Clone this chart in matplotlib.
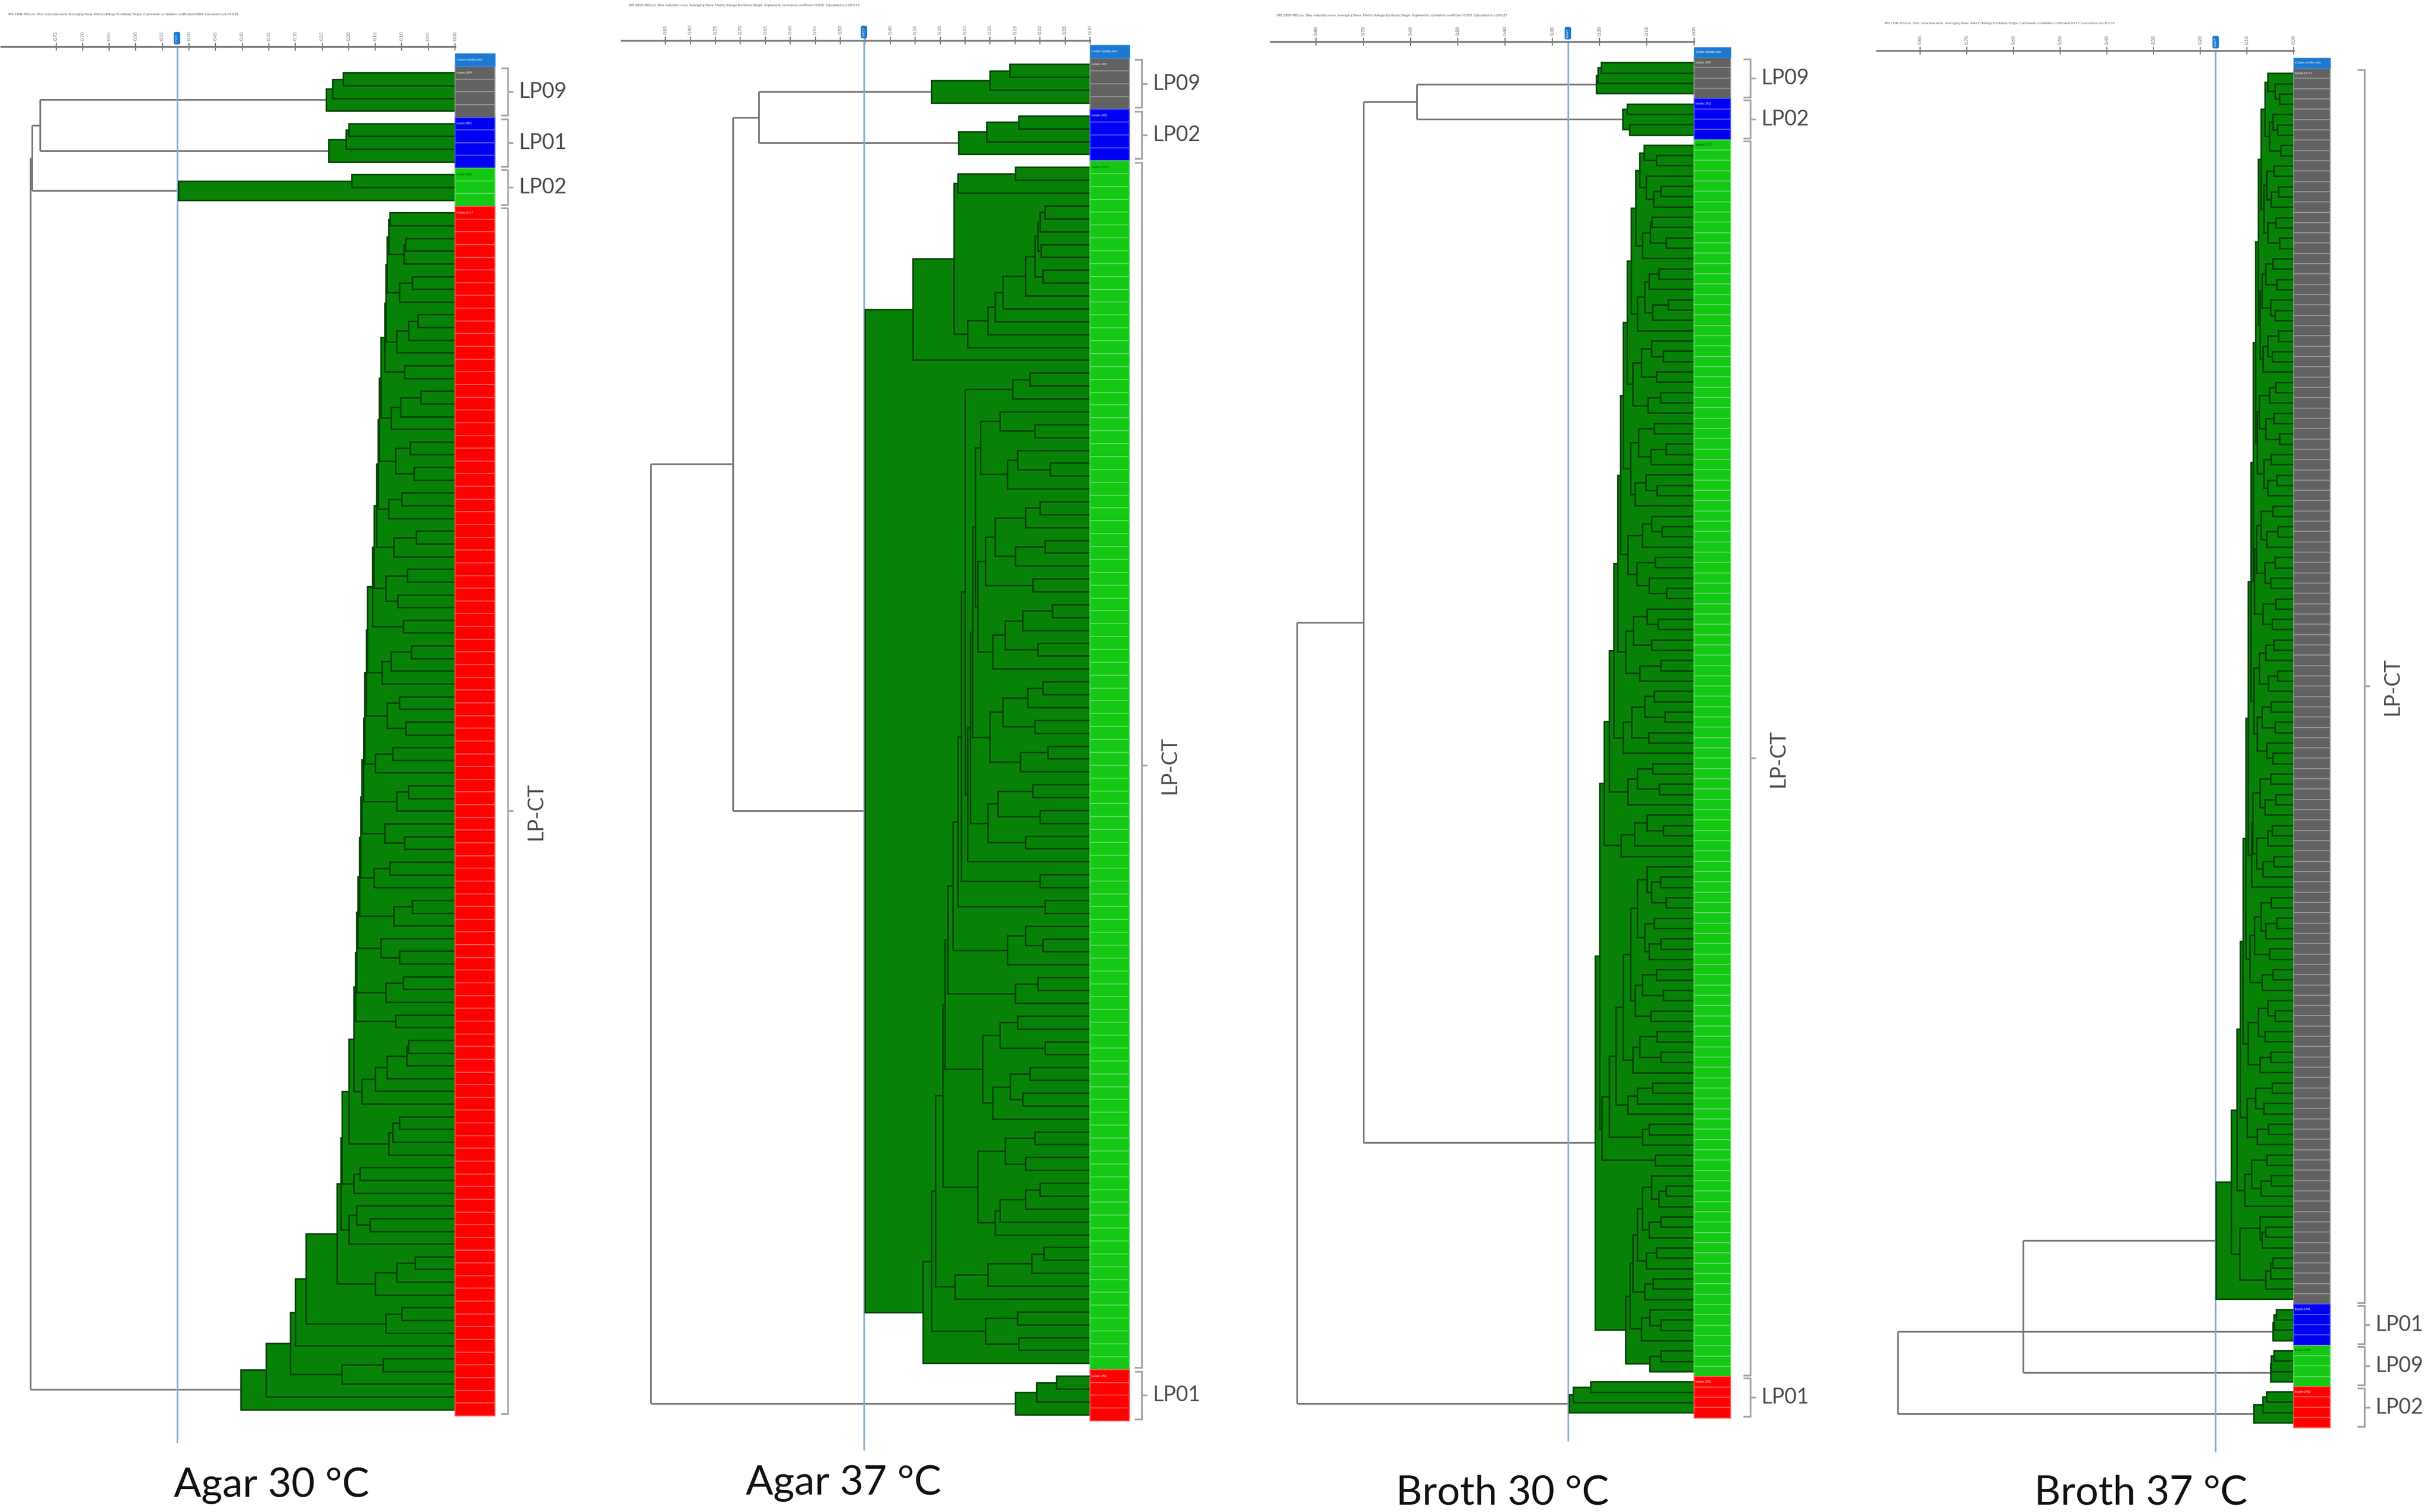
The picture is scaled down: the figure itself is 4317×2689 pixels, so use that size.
import numpy as np
import matplotlib
matplotlib.use("Agg")
import matplotlib.pyplot as plt
import matplotlib.colors as mcolors

plt.rcParams['font.family'] = ['Lato', 'DejaVu Sans']

W, H = 4317, 2689

# colours of the isolate strip, in the order the groups appear top to bottom
strip_colors = ["#626262", "#0000f5", "#14c814", "#ff0000"]
isolate_text = ["white", "white", "#0b3d0b", "white"]

# ---- merge height between neighbouring isolates (top to bottom), in ruler tick units
# Agar 30 C
a30_groups = ["LP09", "LP01", "LP02", "LP-CT"]
a30_sizes = [4, 4, 3, 95]
a30_lp09 = [4.2, 4.6, 4.85]
a30_lp01 = [4.0, 4.1, 4.75]
a30_lp02 = [3.9, 10.4]
a30_lpct = [2.45, 2.50, 1.85, 1.92, 2.55, 1.60, 2.10, 2.60, 1.40, 1.75,
            2.20, 2.65, 1.90, 2.80, 1.30, 2.05, 2.40, 2.85, 1.70, 2.25,
            1.55, 2.90, 2.00, 2.50, 2.95, 1.45, 2.30, 3.05, 1.80, 2.60,
            2.15, 3.10, 1.95, 3.30, 1.65, 2.40, 2.75, 3.35, 2.10, 2.55,
            1.85, 3.40, 2.35, 3.00, 3.45, 1.75, 2.20, 3.50, 2.65, 1.90,
            3.55, 2.45, 3.05, 3.60, 1.60, 2.30, 3.65, 2.80, 2.10, 3.70,
            1.95, 2.60, 3.75, 2.25, 3.80, 1.75, 1.82, 2.56, 3.00, 3.50,
            4.00, 2.10, 2.35, 2.50, 4.25, 3.57, 3.80, 4.30, 3.70, 3.20,
            4.00, 4.44, 1.50, 2.20, 3.00, 5.60, 2.00, 2.60, 6.00, 6.20,
            2.70, 4.25, 7.10, 8.05]
a30_links = [15.6, 15.9, 15.96]
a30_gaps = a30_lp09 + [a30_links[0]] + a30_lp01 + [a30_links[1]] + a30_lp02 + [a30_links[2]] + a30_lpct
a30_cutoff = 10.45

# Agar 37 C
a37_groups = ["LP09", "LP02", "LP-CT", "LP01"]
a37_sizes = [4, 4, 94, 4]
a37_lp09 = [3.22, 4.0, 6.35]
a37_lp02 = [2.86, 4.14, 5.27]
a37_lpct = [3.0, 5.3, 5.45, 1.8, 2.0, 2.1, 1.95, 2.2, 1.9, 2.6,
            3.5, 3.8, 4.1, 4.9, 7.1, 9.0, 2.4, 3.1, 5.0, 3.6,
            2.2, 4.4, 2.9, 1.6, 3.3, 4.6, 2.0, 2.6, 3.8, 1.8,
            3.0, 4.2, 2.3, 4.5, 1.5, 2.7, 3.4, 2.1, 3.9, 4.7,
            1.9, 2.5, 3.5, 2.2, 4.0, 1.7, 2.8, 4.8, 2.3, 3.7,
            2.0, 4.1, 2.6, 4.9, 5.15, 2.0, 5.3, 1.8, 5.5, 2.6,
            1.9, 3.3, 5.7, 2.1, 3.0, 5.8, 2.9, 3.6, 1.8, 4.3,
            2.4, 3.2, 2.7, 3.9, 5.9, 2.2, 3.4, 2.6, 4.5, 2.0,
            2.6, 3.6, 3.8, 6.2, 1.85, 2.35, 4.1, 5.4, 6.35, 2.9,
            4.2, 2.85, 6.7]
a37_lp01 = [1.35, 2.15, 3.0]
a37_links = [13.27, 14.3, 17.6]
a37_gaps = a37_lp09 + [a37_links[0]] + a37_lp02 + [a37_links[1]] + a37_lpct + [a37_links[2]] + a37_lp01
a37_cutoff = 9.05

# Broth 30 C
b30_groups = ["LP09", "LP02", "LP-CT", "LP01"]
b30_sizes = [4, 4, 120, 4]
b30_lp09 = [1.96, 2.03, 2.07]
b30_lp02 = [1.42, 1.51, 1.37]
b30_lpct = [1.06, 0.80, 1.15, 1.01, 0.70, 0.86, 1.24, 0.89, 0.93, 0.60,
            1.10, 1.33, 0.75, 0.95, 1.05, 0.55, 0.88, 1.20, 1.42, 0.90,
            0.65, 1.12, 0.80, 1.30, 0.72, 0.98, 1.50, 0.85, 1.18, 0.60,
            0.92, 1.35, 1.02, 0.78, 1.25, 1.56, 0.90, 0.68, 1.10, 1.40,
            0.82, 1.22, 0.95, 0.58, 1.62, 1.00, 0.76, 1.28, 0.90, 1.45,
            0.70, 1.15, 1.70, 0.84, 1.05, 0.62, 1.32, 0.96, 1.50, 1.80,
            0.88, 1.20, 0.74, 1.40, 1.90, 1.00, 0.66, 1.26, 1.55, 2.00,
            1.00, 0.72, 0.90, 0.60, 1.20, 0.85, 1.05, 0.70, 0.95, 1.35,
            0.80, 1.10, 0.65, 1.25, 0.92, 1.50, 0.78, 1.15, 0.70, 1.30,
            1.65, 0.88, 1.20, 1.40, 1.80, 0.95, 1.10, 1.95, 0.82, 2.09,
            0.90, 0.60, 0.75, 1.10, 0.70, 0.95, 1.20, 0.80, 1.01, 1.30,
            0.87, 1.05, 1.36, 0.94, 0.70, 1.12, 1.45, 0.70, 0.94]
b30_lp01 = [2.19, 2.56, 2.64]
b30_links = [5.87, 7.0, 8.4]
b30_gaps = b30_lp09 + [b30_links[0]] + b30_lp02 + [b30_links[1]] + b30_lpct + [b30_links[2]] + b30_lp01
b30_cutoff = 2.67

# Broth 37 C
b37_groups = ["LP-CT", "LP01", "LP09", "LP02"]
b37_sizes = [120, 4, 4, 4]
b37_lpct = [0.55, 0.40, 0.30, 0.62, 0.45, 0.35, 0.52, 0.28, 0.70, 0.42,
            0.58, 0.33, 0.48, 0.64, 0.38, 0.55, 0.30, 0.76, 0.44, 0.60,
            0.36, 0.68, 0.50, 0.40, 0.72, 0.32, 0.56, 0.46, 0.66, 0.82,
            0.38, 0.52, 0.74, 0.42, 0.60, 0.30, 0.78, 0.48, 0.64, 0.36,
            0.56, 0.87, 0.44, 0.70, 0.34, 0.58, 0.80, 0.40, 0.62, 0.50,
            0.84, 0.38, 0.66, 0.46, 0.92, 0.42, 0.60, 0.74, 0.35, 0.54,
            0.86, 0.48, 0.68, 0.40, 0.78, 0.58, 0.44, 0.97, 0.50, 0.72,
            0.38, 0.62, 0.88, 0.46, 0.56, 0.80, 0.42, 0.66, 0.90, 1.02,
            0.48, 0.70, 0.36, 0.60, 0.84, 0.52, 0.94, 0.44, 0.68, 1.08,
            0.56, 0.40, 0.76, 0.62, 0.98, 0.50, 0.72, 1.14, 0.46, 0.82,
            0.64, 1.00, 0.54, 0.78, 1.22, 0.58, 0.90, 0.48, 0.70, 1.05,
            1.34, 0.72, 0.60, 0.68, 1.16, 0.44, 0.50, 0.60, 1.66]
b37_lp01 = [0.37, 0.42, 0.44]
b37_lp09 = [0.42, 0.48, 0.50]
b37_lp02 = [0.58, 0.66, 0.86]
b37_links = [5.8, 5.8, 8.48]
b37_gaps = b37_lpct + [b37_links[0]] + b37_lp01 + [b37_links[1]] + b37_lp09 + [b37_links[2]] + b37_lp02
b37_cutoff = 1.67

# ruler: number of ticks, value per tick, cophenetic coefficient in header
a30_ruler = (16, 0.05, 0.884)
a37_ruler = (18, 0.05, 0.862)
b30_ruler = (9, 0.10, 0.903)
b37_ruler = (9, 0.10, 0.917)

titles = ["Agar 30 °C", "Agar 37 °C", "Broth 30 °C", "Broth 37 °C"]

# ---- page layout in pixels
layouts = [
    dict(x0=0, x1=1040, y0=83, y1=2620, ruler_left=2, edge=809, unit=47.3, c0=129.3, sp=22.64,
         colw=71, br=903, cut_bottom=2566, hdr=(14, 25), title=(483, 2642)),
    dict(x0=1080, x1=2200, y0=72, y1=2620, ruler_left=1105, edge=1938, unit=44.4, c0=114.4, sp=22.87,
         colw=70, br=2030, cut_bottom=2579, hdr=(1118, 10), title=(1500, 2638)),
    dict(x0=2230, x1=3300, y0=74, y1=2620, ruler_left=2259, edge=3012, unit=84.0, c0=111.2, sp=18.33,
         colw=65, br=3112, cut_bottom=2563, hdr=(2270, 28), title=(2671, 2655)),
    dict(x0=3320, x1=4317, y0=90, y1=2620, ruler_left=3337, edge=4078, unit=83.0, c0=130.2, sp=18.32,
         colw=65, br=4204, cut_bottom=2582, hdr=(3350, 42), title=(3806, 2655)),
]

FILL = "#078207"
EDGE = "#053f05"
LINK = "#767676"
CUT = "#86abd2"
BRACKET = "#a6a6a6"
LABEL_COLOR = "#4a4a4a"
LABEL_SIZE = 27


def lighten(c, f):
    r, g, b = mcolors.to_rgb(c)
    return (r + (1 - r) * f, g + (1 - g) * f, b + (1 - b) * f)


fig = plt.figure(figsize=(W / 100, H / 100), dpi=100)


def draw_panel(lay, groups, sizes, gaps, cutoff, ruler, title):
    nticks, step, coph = ruler
    n = sum(sizes)
    g = np.asarray(gaps, dtype=float)
    assert len(g) == n - 1, (title, len(g), n)

    ax = fig.add_axes([lay["x0"] / W, 1 - lay["y1"] / H,
                       (lay["x1"] - lay["x0"]) / W, (lay["y1"] - lay["y0"]) / H])
    ax.patch.set_visible(False)
    ux = lambda px: (lay["edge"] - px) / lay["unit"]
    uy = lambda py: (py - lay["c0"]) / lay["sp"]
    ax.set_xlim(ux(lay["x0"]), ux(lay["x1"]))
    ax.set_ylim(uy(lay["y1"]), uy(lay["y0"]))

    # tree from neighbour gaps (single linkage in leaf order)
    nodes = []

    def build(a, b):
        if a == b:
            return 0.0, float(a)
        seg = g[a:b]
        m = seg.max()
        cuts = list(a + np.flatnonzero(seg == m))
        starts = [a] + [c + 1 for c in cuts]
        ends = cuts + [b]
        kids = [build(s, e) for s, e in zip(starts, ends)]
        y = float(np.median([k[1] for k in kids]))
        nodes.append((m, y, kids))
        return m, y

    build(0, n - 1)
    nodes.sort(key=lambda t: -t[0])

    # filled clusters below the cut-off, plain links above it
    fh, fy, fhgt = [], [], []
    for h, y, kids in nodes:
        ys = [k[1] for k in kids]
        if h <= cutoff:
            fh.append(h)
            fy.append((min(ys) + max(ys)) / 2)
            fhgt.append(max(ys) - min(ys))
        else:
            ax.vlines(h, min(ys), max(ys), color=LINK, lw=2.1, zorder=1)
            for hc, yc in kids:
                ax.hlines(yc, hc, h, color=LINK, lw=2.1, zorder=1)
    ax.barh(fy, fh, height=fhgt, left=0, color=FILL, edgecolor=EDGE, linewidth=1.9, zorder=3)

    # cut-off line
    ax.vlines(cutoff, uy(lay["cut_bottom"]), uy(lay["y0"]), color=CUT, lw=2.0, zorder=2)

    # isolate strip
    colw = lay["colw"] / lay["unit"]
    cols = np.repeat(np.array(strip_colors[:len(sizes)]), sizes)
    edges = [lighten(c, 0.35) for c in cols]
    ax.barh(np.arange(n), -colw, left=0, height=1.0, color=cols, edgecolor=edges,
            linewidth=1.2, zorder=4)
    ax.barh([-1], -colw, left=0, height=1.0, color="#1c78d2", edgecolor="#3b8fdc",
            linewidth=1.0, zorder=4)
    ax.text(-colw * 0.04, -1, "Cluster stability ratio", fontsize=3.6, color="white",
            ha="left", va="center", zorder=5, clip_on=True)

    # brackets and group labels
    xb = ux(lay["br"])
    t = 11 / lay["unit"]
    tm = 8 / lay["unit"]
    start = 0
    for gi, (name, size) in enumerate(zip(groups, sizes)):
        s, e = start, start + size - 1
        start += size
        ya, yb, ym = s - 0.35, e + 0.35, (s + e) / 2
        ax.plot([xb + t, xb, xb, xb + t], [ya, ya, yb, yb], color=BRACKET, lw=2.2,
                solid_joinstyle="miter", zorder=2)
        ax.plot([xb, xb - tm], [ym, ym], color=BRACKET, lw=2.2, zorder=2)
        ax.text(-colw * 0.04, s, "Isolate " + name, fontsize=3.6, color=isolate_text[gi],
                ha="left", va="center", zorder=5)
        if size > 20:
            ax.text(ux(lay["br"] + 50), ym, name, rotation=90, ha="center", va="center",
                    fontsize=LABEL_SIZE, color=LABEL_COLOR)
        else:
            ax.text(ux(lay["br"] + 20), ym, name, ha="left", va="center",
                    fontsize=LABEL_SIZE, color=LABEL_COLOR)

    # ruler on top
    for side in ["left", "right", "bottom"]:
        ax.spines[side].set_visible(False)
    ax.spines["top"].set_bounds(0, ux(lay["ruler_left"]))
    ax.spines["top"].set_color("#7c7c7c")
    ax.spines["top"].set_linewidth(2.4)
    ax.set_yticks([])
    ax.set_xticks(np.arange(nticks))
    ax.set_xticklabels([f"{i * step:.2f}" for i in range(nticks)])
    ax.tick_params(axis="x", top=True, bottom=False, labeltop=True, labelbottom=False,
                   direction="inout", length=10, width=1.3, color="#6f6f6f",
                   labelcolor="#6a6a6a", labelsize=6, labelrotation=90, pad=3)
    ax.text(cutoff, uy(lay["y0"] - 15), f"{cutoff * step:.3f}", rotation=90, ha="center",
            va="center", fontsize=4.5, color="white", zorder=6,
            bbox=dict(boxstyle="round,pad=0.4", fc="#1c78d2", ec="#1c78d2"))

    hx, hy = lay["hdr"]
    fig.text(hx / W, 1 - hy / H,
             f"SPS 1300-900/cm  Dim. reduction none  Averaging None  Metric/linkage Euclidean/Single  "
             f"Cophenetic correlation coefficient {coph:.3f}  Calculated cut off {cutoff * step:.2f}",
             fontsize=4.3, color="#555555", ha="left", va="center")
    tx, ty = lay["title"]
    fig.text(tx / W, 1 - ty / H, title, fontsize=52, color="#111111", ha="center", va="center")


draw_panel(layouts[0], a30_groups, a30_sizes, a30_gaps, a30_cutoff, a30_ruler, titles[0])
draw_panel(layouts[1], a37_groups, a37_sizes, a37_gaps, a37_cutoff, a37_ruler, titles[1])
draw_panel(layouts[2], b30_groups, b30_sizes, b30_gaps, b30_cutoff, b30_ruler, titles[2])
draw_panel(layouts[3], b37_groups, b37_sizes, b37_gaps, b37_cutoff, b37_ruler, titles[3])

fig.savefig("out.png", dpi=100, facecolor="white")
